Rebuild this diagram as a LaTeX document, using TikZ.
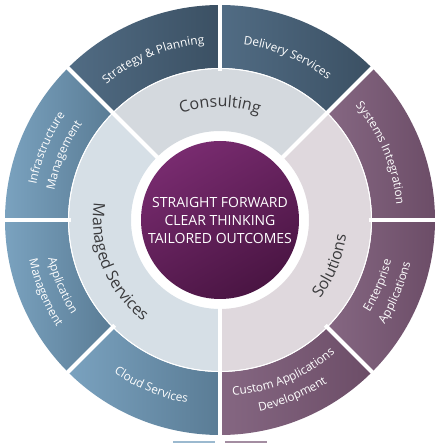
\documentclass[tikz,border=0pt]{standalone}
\usepackage{fontspec}
\setmainfont{Open Sans}
\usetikzlibrary{decorations.text}

\definecolor{consultdark}{HTML}{3B5063}
\definecolor{consultlight}{HTML}{516C84}
\definecolor{consultring}{HTML}{D4D9DE}
\definecolor{solutiondark}{HTML}{6C4D67}
\definecolor{solutionlight}{HTML}{856782}
\definecolor{solutionring}{HTML}{DFD8DD}
\definecolor{manageddark}{HTML}{5A7C95}
\definecolor{managedlight}{HTML}{7AA2BF}
\definecolor{managedring}{HTML}{D6DFE6}
\definecolor{corelight}{HTML}{782B6F}
\definecolor{coredark}{HTML}{4A1543}
\definecolor{ringtext}{HTML}{3A3A3C}

\newcommand{\outerfont}{\fontsize{11.8}{14}\selectfont\color{white}}
\newcommand{\ringfont}{\fontsize{16}{19}\selectfont\color{ringtext}}

\tikzset{
  consulting/.style={left color=consultlight, right color=consultdark},
  solutions/.style={left color=solutionlight, right color=solutiondark},
  managed/.style={left color=managedlight, right color=manageddark},
  gap/.style={draw=white, line width=4pt},
  curvedlabel/.style={decorate, decoration={text along path, text align=center}},
  core/.style={circle, minimum size=158pt, inner sep=0pt, align=center,
    top color=corelight, bottom color=coredark, shading angle=30,
    text=white, font=\fontsize{14}{18}\selectfont}
}

\begin{document}
\begin{tikzpicture}[x=1pt,y=1pt]
  \def \rcore {89}
  \def \rmid {151}
  \def \rin {152}
  \def \rout {215}
  \useasboundingbox (-220,-223) rectangle (220,220);

  % middle ring
  \fill[consultring]
    (45:\rcore) arc (45:135:\rcore) -- (135:\rmid) arc (135:45:\rmid) -- cycle;
  \fill[solutionring]
    (-90:\rcore) arc (-90:45:\rcore) -- (45:\rmid) arc (45:-90:\rmid) -- cycle;
  \fill[managedring]
    (135:\rcore) arc (135:270:\rcore) -- (270:\rmid) arc (270:135:\rmid) -- cycle;

  % outer ring
  \shade[consulting] (90:\rin) arc (90:135:\rin) -- (135:\rout) arc (135:90:\rout) -- cycle;
  \shade[consulting] (45:\rin) arc (45:90:\rin) -- (90:\rout) arc (90:45:\rout) -- cycle;
  \shade[solutions] (0:\rin) arc (0:45:\rin) -- (45:\rout) arc (45:0:\rout) -- cycle;
  \shade[solutions] (-45:\rin) arc (-45:0:\rin) -- (0:\rout) arc (0:-45:\rout) -- cycle;
  \shade[solutions] (-90:\rin) arc (-90:-45:\rin) -- (-45:\rout) arc (-45:-90:\rout) -- cycle;
  \shade[managed] (-135:\rin) arc (-135:-90:\rin) -- (-90:\rout) arc (-90:-135:\rout) -- cycle;
  \shade[managed] (180:\rin) arc (180:225:\rin) -- (225:\rout) arc (225:180:\rout) -- cycle;
  \shade[managed] (135:\rin) arc (135:180:\rin) -- (180:\rout) arc (180:135:\rout) -- cycle;

  % white gaps
  \draw[white, line width=1pt] (0,0) circle (151.5);
  \draw[gap] (45:86) -- (45:217);
  \draw[gap] (135:86) -- (135:217);
  \draw[gap] (270:86) -- (270:217);
  \draw[gap] (0:149) -- (0:217);
  \draw[gap] (90:149) -- (90:217);
  \draw[gap] (180:149) -- (180:217);
  \draw[gap] (225:149) -- (225:217);
  \draw[gap] (315:149) -- (315:217);

  % bits of the next row
  \fill[managedlight!75] (-47,-223) rectangle (-5,-221);
  \fill[solutionlight!75] (5,-223) rectangle (47,-221);

  \node[core] (core) at (0,0) {STRAIGHT FORWARD\\CLEAR THINKING\\TAILORED OUTCOMES};

  % ring labels
  \path[curvedlabel, decoration={text={|\ringfont|Consulting}}] (135:113) arc (135:45:113);
  \path[curvedlabel, decoration={text={|\ringfont|Solutions}}] (-90:127) arc (-90:45:127);
  \path[curvedlabel, decoration={text={|\ringfont|Managed Services}}] (135:127) arc (135:270:127);

  % outer labels
  \path[curvedlabel, decoration={text={|\outerfont|Strategy {\&} Planning}}] (135:177) arc (135:90:177);
  \path[curvedlabel, decoration={text={|\outerfont|Delivery Services}}] (90:177) arc (90:45:177);
  \path[curvedlabel, decoration={text={|\outerfont|Systems Integration}}] (45:177) arc (45:0:177);
  \path[curvedlabel, decoration={text={|\outerfont|Enterprise}}] (-45:176) arc (-45:0:176);
  \path[curvedlabel, decoration={text={|\outerfont|Applications}}] (-45:195) arc (-45:0:195);
  \path[curvedlabel, decoration={text={|\outerfont|Custom Applications}}] (-90:176) arc (-90:-45:176);
  \path[curvedlabel, decoration={text={|\outerfont|Development}}] (-90:195) arc (-90:-45:195);
  \path[curvedlabel, decoration={text={|\outerfont|Cloud Services}}] (-135:186) arc (-135:-90:186);
  \path[curvedlabel, decoration={text={|\outerfont|Application}}] (180:176) arc (180:225:176);
  \path[curvedlabel, decoration={text={|\outerfont|Management}}] (180:195) arc (180:225:195);
  \path[curvedlabel, decoration={text={|\outerfont|Infrastructure}}] (180:187) arc (180:135:187);
  \path[curvedlabel, decoration={text={|\outerfont|Management}}] (180:168) arc (180:135:168);
\end{tikzpicture}
\end{document}
